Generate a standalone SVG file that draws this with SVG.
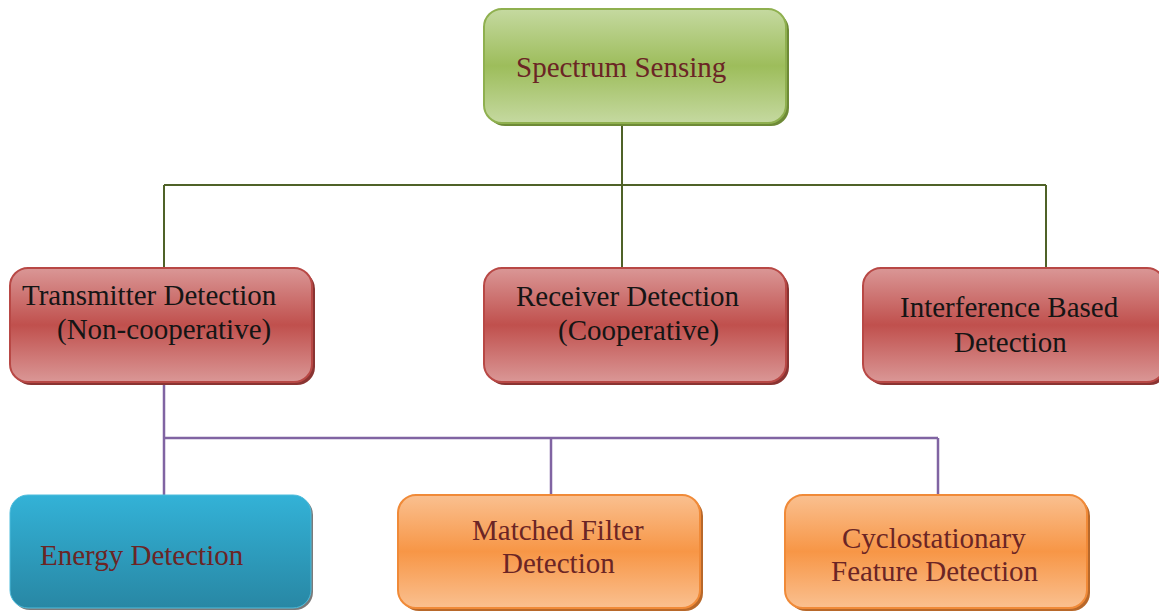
<svg xmlns="http://www.w3.org/2000/svg" width="1159" height="612" viewBox="0 0 1159 612">
<defs>
<linearGradient id="gG" x1="0" y1="0" x2="0" y2="1"><stop offset="0" stop-color="#c5d9a0"/><stop offset="0.5" stop-color="#9dbd5b"/><stop offset="1" stop-color="#c5d9a0"/></linearGradient>
<linearGradient id="gR" x1="0" y1="0" x2="0" y2="1"><stop offset="0" stop-color="#da9796"/><stop offset="0.5" stop-color="#c0504d"/><stop offset="1" stop-color="#da9796"/></linearGradient>
<linearGradient id="gB" x1="0" y1="0" x2="0" y2="1"><stop offset="0" stop-color="#33b2d7"/><stop offset="1" stop-color="#2887a4"/></linearGradient>
<linearGradient id="gO" x1="0" y1="0" x2="0" y2="1"><stop offset="0" stop-color="#fac090"/><stop offset="0.5" stop-color="#f79646"/><stop offset="1" stop-color="#fac090"/></linearGradient>
</defs>
<style>
text{font-family:"Liberation Serif","Times New Roman",serif;font-size:29px}
.dr{fill:#6b2525}
.bk{fill:#151515}
.g{fill:url(#gG);stroke:#8fb04f;stroke-width:2}
.gs{fill:#6e8a37}
.r{fill:url(#gR);stroke:#b84845;stroke-width:2}
.rs{fill:#8a3432}
.b{fill:url(#gB);stroke:#4dbcdc;stroke-width:1}
.bs{fill:#7a7a7a}
.o{fill:url(#gO);stroke:#f08a38;stroke-width:2}
.os{fill:#b8682a}
.cg{fill:none;stroke:#4f6228;stroke-width:2}
.cp{fill:none;stroke:#8064a2;stroke-width:2.5}
</style>
<g id="connectors">
<path class="cg" d="M622 123V185M164 185H1046M164 185V268M622 185V268M1046 185V268"/>
<path class="cp" d="M164 382V495M164 438H938M551 438V495M938 438V495"/>
</g>
<g id="spectrum">
<rect class="gs" x="487" y="12" width="302" height="114" rx="18"/>
<rect class="g" x="484" y="9" width="302" height="114" rx="18"/>
<text class="dr" x="516" y="77">Spectrum Sensing</text>
</g>
<g id="transmitter">
<rect class="rs" x="13" y="271" width="302" height="114" rx="18"/>
<rect class="r" x="10" y="268" width="302" height="114" rx="18"/>
<text class="bk" x="22" y="305">Transmitter Detection</text>
<text class="bk" x="57" y="339">(Non-cooperative)</text>
</g>
<g id="receiver">
<rect class="rs" x="487" y="271" width="302" height="114" rx="18"/>
<rect class="r" x="484" y="268" width="302" height="114" rx="18"/>
<text class="bk" x="516" y="306">Receiver Detection</text>
<text class="bk" x="558" y="340">(Cooperative)</text>
</g>
<g id="interference">
<rect class="rs" x="866" y="271" width="302" height="114" rx="18"/>
<rect class="r" x="863" y="268" width="302" height="114" rx="18"/>
<text class="bk" x="900" y="317">Interference Based</text>
<text class="bk" x="954" y="352">Detection</text>
</g>
<g id="energy">
<rect class="bs" x="12" y="497" width="301" height="113" rx="18"/>
<rect class="b" x="10" y="495" width="301" height="113" rx="18"/>
<text class="dr" x="40" y="565">Energy Detection</text>
</g>
<g id="matched">
<rect class="os" x="401" y="498" width="302" height="113" rx="18"/>
<rect class="o" x="398" y="495" width="302" height="113" rx="18"/>
<text class="dr" x="472" y="540">Matched Filter</text>
<text class="dr" x="502" y="573">Detection</text>
</g>
<g id="cyclo">
<rect class="os" x="788" y="498" width="302" height="113" rx="18"/>
<rect class="o" x="785" y="495" width="302" height="113" rx="18"/>
<text class="dr" x="842" y="548">Cyclostationary</text>
<text class="dr" x="831" y="581">Feature Detection</text>
</g>
</svg>
